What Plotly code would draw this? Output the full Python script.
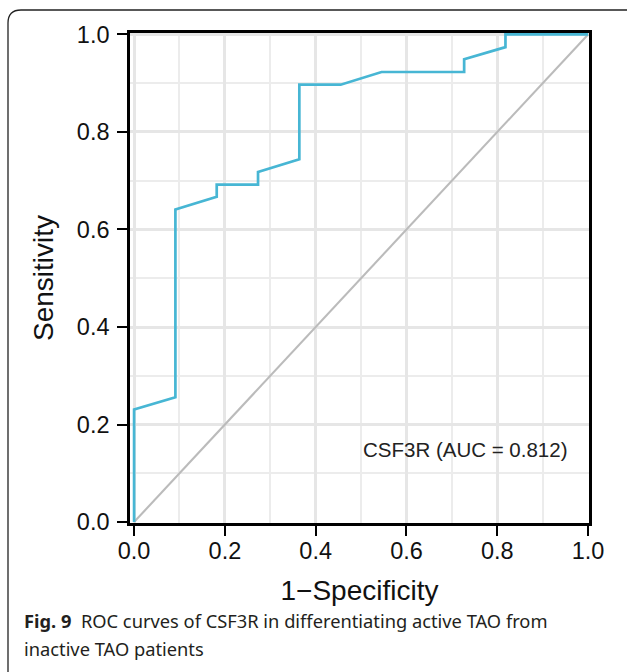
import plotly.graph_objects as go

# ---- data ----
fpr = [0.0, 0.0, 0.091, 0.091, 0.182, 0.182, 0.273, 0.273, 0.364, 0.364,
       0.455, 0.545, 0.727, 0.727, 0.818, 0.818, 1.0]
tpr = [0.0, 0.231, 0.256, 0.641, 0.667, 0.692, 0.692, 0.718, 0.744, 0.897,
       0.897, 0.923, 0.923, 0.949, 0.974, 1.0, 1.0]
chance_x = [0.0, 1.0]
chance_y = [0.0, 1.0]
tick_vals = [0.0, 0.2, 0.4, 0.6, 0.8, 1.0]
tick_text = ["0.0", "0.2", "0.4", "0.6", "0.8", "1.0"]
label_text = "CSF3R (AUC = 0.812)"
x_title = "1\u2212Specificity"
y_title = "Sensitivity"
caption_1 = "<b>Fig. 9</b>  ROC curves of CSF3R in differentiating active TAO from"
caption_2 = "inactive TAO patients"

W, H = 627, 672
L, R, T, B = 130, 38, 33, 149  # plot area px margins

def px_x(px):
    return (px - L) / (W - L - R)

def px_y(py):
    return ((H - B) - py) / (H - T - B)

fig = go.Figure()
fig.add_trace(go.Scatter(x=chance_x, y=chance_y, mode="lines",
                         line=dict(color="#BBBBBB", width=2.1),
                         hoverinfo="skip", showlegend=False))
fig.add_trace(go.Scatter(x=fpr, y=tpr, mode="lines",
                         line=dict(color="#47B6D4", width=2.7),
                         showlegend=False))

axis_common = dict(
    showline=True, linecolor="black", linewidth=2.6, mirror=True,
    ticks="outside", tickwidth=2.4, tickcolor="black",
    tickvals=tick_vals, ticktext=tick_text,
    tickfont=dict(family="Liberation Sans, Arial", size=23.5, color="#111"),
    showgrid=True, gridcolor="#E6E6E6", gridwidth=3,
    minor=dict(dtick=0.1, tick0=0, showgrid=True, gridcolor="#ECECEC", gridwidth=1.6, ticks=""),
    zeroline=False, automargin=False,
)

fig.update_xaxes(range=[-0.009, 1.002], ticklen=10, ticklabelstandoff=-5,
                 title=dict(text=x_title, standoff=18,
                            font=dict(family="Liberation Sans, Arial", size=28, color="#111")),
                 **axis_common)
fig.update_yaxes(range=[-0.002, 1.003], ticklen=10, ticklabelstandoff=3,
                 title=dict(text=y_title, standoff=16,
                            font=dict(family="Liberation Sans, Arial", size=28, color="#111")),
                 **axis_common)

fig.add_annotation(x=0.73, y=0.148, xref="x", yref="y", text=label_text,
                   showarrow=False, xanchor="center", yanchor="middle",
                   font=dict(family="Liberation Sans, Arial", size=20.5, color="#222"))

cap_font = dict(family="Noto Sans", size=18.3, color="#231F20")
fig.add_annotation(x=px_x(22), y=px_y(620), xref="paper", yref="paper", text=caption_1,
                   showarrow=False, xanchor="left", yanchor="middle", font=cap_font)
fig.add_annotation(x=px_x(22), y=px_y(648), xref="paper", yref="paper", text=caption_2,
                   showarrow=False, xanchor="left", yanchor="middle", font=cap_font)

# rounded figure frame (extends past right and bottom edges)
x0, y0, x1, y1, r = 8, 10, 650, 700, 13
path = (f"M {px_x(x0)},{px_y(y1)} L {px_x(x0)},{px_y(y0 + r)} "
        f"Q {px_x(x0)},{px_y(y0)} {px_x(x0 + r)},{px_y(y0)} "
        f"L {px_x(x1)},{px_y(y0)}")
fig.add_shape(type="path", path=path, xref="paper", yref="paper",
              line=dict(color="#222", width=1.3), layer="above")

fig.update_layout(width=W, height=H, margin=dict(l=L, r=R, t=T, b=B),
                  paper_bgcolor="white", plot_bgcolor="white")

fig.write_html("out.html")
